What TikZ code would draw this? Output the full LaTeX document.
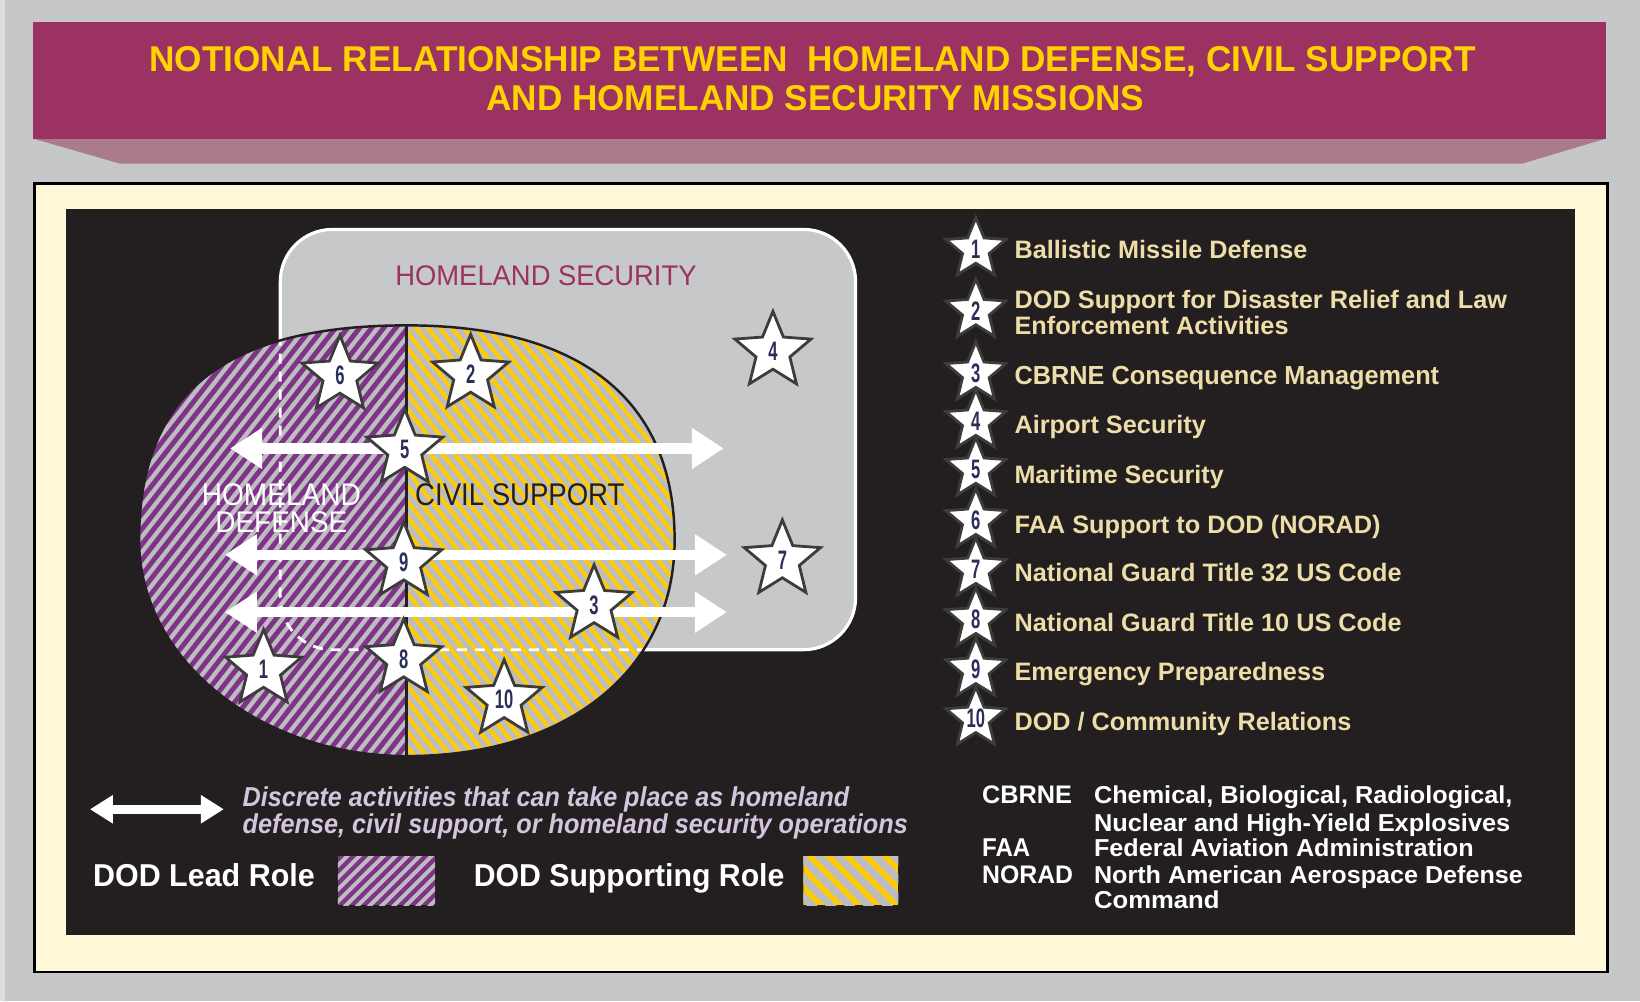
\documentclass[tikz,border=0pt]{standalone}
\usepackage{fontspec}
\setmainfont{Liberation Sans}
\usepackage{graphicx}
\usetikzlibrary{shapes.geometric,arrows.meta}
\definecolor{bggray}{HTML}{C6C7C9}
\definecolor{leftstrip}{HTML}{DCDCDE}
\definecolor{hdmag}{HTML}{9B3262}
\definecolor{hdshadow}{HTML}{A97B8D}
\definecolor{ttlyellow}{HTML}{FFD200}
\definecolor{cream}{HTML}{FFF9D7}
\definecolor{panelblack}{HTML}{231F20}
\definecolor{hsgray}{HTML}{C7C8CA}
\definecolor{lpurple}{HTML}{7E3487}
\definecolor{lyellow}{HTML}{FFCC00}
\definecolor{stripegray}{HTML}{BDBDC1}
\definecolor{legtext}{HTML}{EDDDA8}
\definecolor{disctext}{HTML}{D3C5DD}
\definecolor{numcol}{HTML}{2A2F5A}
\definecolor{staredge}{HTML}{3C3C3C}
\newlength\ux \setlength\ux{0.010459cm}
\newlength\uy \setlength\uy{0.010417cm}
\newcommand\fitt[3]{\resizebox{#1\ux}{#2\uy}{#3}}
\newcommand\snum[1]{\scalebox{0.62}[1]{\bfseries #1}}
\def\ovalpath{(389,312) .. controls (215,312) and (133,377) .. (133,518)
  .. controls (133,632) and (248,725) .. (389,725)
  .. controls (543,725) and (645,642) .. (645,518)
  .. controls (645,383) and (555,312) .. (389,312) -- cycle}
\begin{document}
\begin{tikzpicture}[x=0.010459cm,y=-0.010417cm,
  txt/.style={inner sep=0pt, outer sep=0pt, anchor=base west},
  mapstar/.style={star, star points=5, star point ratio=2.25, draw=staredge, line width=0.8pt,
    fill=white, minimum size=0.80cm, inner sep=0pt, font=\fontsize{7.6}{8}\selectfont, text=numcol},
  legstar/.style={mapstar, minimum size=0.63cm},
  bigarrow/.style={draw=white, line width=0.105cm,
    {Triangle[length=0.32cm,width=0.39cm]}-{Triangle[length=0.32cm,width=0.39cm]}},
  smallarrow/.style={draw=white, line width=0.095cm,
    {Triangle[length=0.23cm,width=0.27cm]}-{Triangle[length=0.23cm,width=0.27cm]}},
  pstripe/.style={draw=stripegray, line width=0.043cm},
  ystripe/.style={draw=stripegray, line width=0.052cm},
  hsdash/.style={draw=white, line width=0.8pt, dash pattern=on 0.1cm off 0.08cm}]
\useasboundingbox (0,0) rectangle (1568,960);
\fill[bggray] (0,0) rectangle (1568,960);
\fill[leftstrip] (0,0) rectangle (5,960);
% header
\fill[hdshadow] (32,133) -- (1535,133) -- (1455,157) -- (115,157) -- cycle;
\fill[hdmag] (32,21) rectangle (1535,133);
\node[txt,text=ttlyellow] (title1) at (143,69) {\fitt{1268}{24}{\bfseries NOTIONAL RELATIONSHIP BETWEEN\ \ HOMELAND DEFENSE, CIVIL SUPPORT}};
\node[txt,text=ttlyellow] (title2) at (465,106) {\fitt{629}{24}{\bfseries AND HOMELAND SECURITY MISSIONS}};
% panels
\draw[fill=cream, draw=black, line width=0.8pt] (33,176) rectangle (1537,932);
\fill[panelblack] (63,200) rectangle (1506,897);
% homeland security box
\draw[fill=hsgray, draw=white, line width=0.9pt, rounded corners=0.52cm] (268,220) rectangle (818,623);
\node[txt,text=hdmag] (hstext) at (378,274) {\fitt{288}{19}{HOMELAND SECURITY}};
% oval halves
\begin{scope}
  \clip \ovalpath;
  \fill[lpurple] (100,290) rectangle (389,750);
  \fill[lyellow] (389,290) rectangle (680,750);
  \begin{scope}
    \clip (100,290) rectangle (389,750);
    \foreach \sx in {-240,-228.5,...,390} \draw[pstripe] (\sx,760) -- ++(375,-480);
  \end{scope}
  \begin{scope}
    \clip (389,290) rectangle (680,750);
    \foreach \sx in {20,31.5,...,650} \draw[ystripe] (\sx,280) -- ++(375,480);
  \end{scope}
  \draw[hsdash, rounded corners=0.52cm] (268,220) rectangle (818,623);
\end{scope}
\draw[panelblack, line width=0.7pt] \ovalpath;
\coordinate (divtop) at (389,312);
\coordinate (divbot) at (389,725);
\draw[panelblack, line width=0.8pt] (divtop) -- (divbot);
% oval labels
\node[txt,text=white] (hd1) at (193,485) {\fitt{152}{21}{HOMELAND}};
\node[txt,text=white] (hd2) at (206,511) {\fitt{126}{20}{DEFENSE}};
\node[txt,text=panelblack] (cs) at (397,485) {\fitt{200}{21}{CIVIL SUPPORT}};
% arrows
\coordinate (a1l) at (220,430); \coordinate (a1r) at (692,430);
\coordinate (a2l) at (215,532); \coordinate (a2r) at (695,532);
\coordinate (a3l) at (215,587); \coordinate (a3r) at (695,587);
\draw[bigarrow] (a1l) -- (a1r);
\draw[bigarrow] (a2l) -- (a2r);
\draw[bigarrow] (a3l) -- (a3r);
% map stars
\node[mapstar] (s6) at (325,360) {\snum{6}};
\node[mapstar] (s2) at (450,359) {\snum{2}};
\node[mapstar] (s4) at (739,337) {\snum{4}};
\node[mapstar] (s5) at (387,431) {\snum{5}};
\node[mapstar] (s9) at (386,539) {\snum{9}};
\node[mapstar] (s7) at (748,537) {\snum{7}};
\node[mapstar] (s3) at (568,580) {\snum{3}};
\node[mapstar] (s1) at (252,642) {\snum{1}};
\node[mapstar] (s8) at (386,632) {\snum{8}};
\node[mapstar] (s10) at (482,671) {\snum{10}};
% legend stars
\node[legstar] (k1) at (933,239) {\snum{1}};
\node[legstar] (k2) at (933,298) {\snum{2}};
\node[legstar] (k3) at (933,358) {\snum{3}};
\node[legstar] (k4) at (933,404) {\snum{4}};
\node[legstar] (k5) at (933,450) {\snum{5}};
\node[legstar] (k6) at (933,499) {\snum{6}};
\node[legstar] (k7) at (933,546) {\snum{7}};
\node[legstar] (k8) at (933,594) {\snum{8}};
\node[legstar] (k9) at (933,642) {\snum{9}};
\node[legstar] (k10) at (933,689) {\snum{10}};
% legend texts
\node[txt,text=legtext] (t1) at (970,248) {\fitt{280}{17.5}{\bfseries Ballistic Missile Defense}};
\node[txt,text=legtext] (t2a) at (970,296) {\fitt{471}{17.5}{\bfseries DOD Support for Disaster Relief and Law}};
\node[txt,text=legtext] (t2b) at (970,321) {\fitt{262}{17.5}{\bfseries Enforcement Activities}};
\node[txt,text=legtext] (t3) at (970,369) {\fitt{406}{17.5}{\bfseries CBRNE Consequence Management}};
\node[txt,text=legtext] (t4) at (970,416) {\fitt{183}{17.5}{\bfseries Airport Security}};
\node[txt,text=legtext] (t5) at (970,464) {\fitt{200}{17.5}{\bfseries Maritime Security}};
\node[txt,text=legtext] (t6) at (970,512) {\fitt{350}{17.5}{\bfseries FAA Support to DOD (NORAD)}};
\node[txt,text=legtext] (t7) at (970,558) {\fitt{370}{17.5}{\bfseries National Guard Title 32 US Code}};
\node[txt,text=legtext] (t8) at (970,606) {\fitt{370}{17.5}{\bfseries National Guard Title 10 US Code}};
\node[txt,text=legtext] (t9) at (970,653) {\fitt{297}{17.5}{\bfseries Emergency Preparedness}};
\node[txt,text=legtext] (t10) at (970,700) {\fitt{322}{17.5}{\bfseries DOD / Community Relations}};
% bottom legend
\coordinate (la) at (86,776); \coordinate (lb) at (214,776);
\draw[smallarrow] (la) -- (lb);
\node[txt,text=disctext] (d1) at (232,773) {\fitt{580}{19}{\bfseries\itshape Discrete activities that can take place as homeland}};
\node[txt,text=disctext] (d2) at (232,799) {\fitt{636}{19}{\bfseries\itshape defense, civil support, or homeland security operations}};
\node[txt,text=white] (lead) at (89,850) {\fitt{212}{22}{\bfseries DOD Lead Role}};
\node[txt,text=white] (supp) at (453,850) {\fitt{297}{22}{\bfseries DOD Supporting Role}};
\begin{scope}
  \clip (323,821) rectangle (416,868);
  \fill[lpurple] (323,821) rectangle (416,868);
  \foreach \sx in {250,261.5,...,430} \draw[draw=stripegray, line width=0.039cm] (\sx,880) -- ++(70,-70);
\end{scope}
\begin{scope}
  \clip (768,821) rectangle (859,868);
  \fill[lyellow] (768,821) rectangle (859,868);
  \foreach \sx in {700,718,...,880} \draw[draw=stripegray, line width=0.075cm] (\sx,810) -- ++(70,70);
\end{scope}
% abbreviations
\node[txt,text=white] (ab1) at (939,770) {\fitt{86}{17}{\bfseries CBRNE}};
\node[txt,text=white] (ab2) at (939,821) {\fitt{46}{17}{\bfseries FAA}};
\node[txt,text=white] (ab3) at (939,847) {\fitt{87}{17}{\bfseries NORAD}};
\node[txt,text=white] (df1) at (1046,770) {\fitt{400}{17}{\bfseries Chemical, Biological, Radiological,}};
\node[txt,text=white] (df2) at (1046,797) {\fitt{398}{17}{\bfseries Nuclear and High-Yield Explosives}};
\node[txt,text=white] (df3) at (1046,821) {\fitt{363}{17}{\bfseries Federal Aviation Administration}};
\node[txt,text=white] (df4) at (1046,847) {\fitt{410}{17}{\bfseries North American Aerospace Defense}};
\node[txt,text=white] (df5) at (1046,871) {\fitt{120}{17}{\bfseries Command}};
\end{tikzpicture}
\end{document}
